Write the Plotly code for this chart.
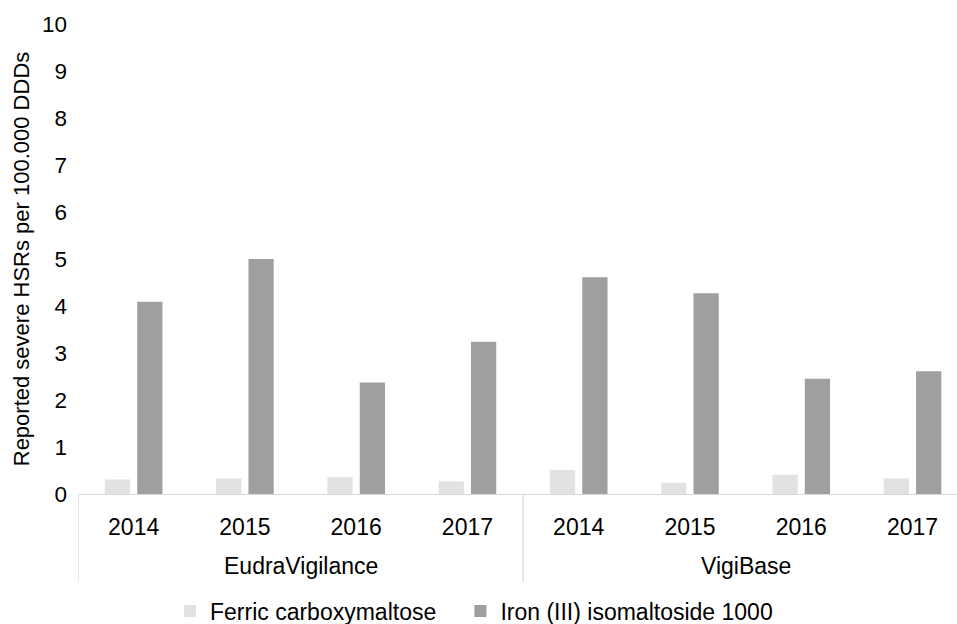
import plotly.graph_objects as go

databases = ["EudraVigilance"] * 4 + ["VigiBase"] * 4
years = ["2014", "2015", "2016", "2017"] * 2
ferric_carboxymaltose = [0.31, 0.33, 0.36, 0.27, 0.51, 0.24, 0.41, 0.33]
iron_isomaltoside = [4.09, 5.00, 2.37, 3.24, 4.61, 4.27, 2.45, 2.61]
y_ticks = list(range(0, 11))

FONT = "Liberation Sans, Arial, sans-serif"
AXIS_GRAY = "#d9d9d9"
positions = list(range(len(years)))

fig = go.Figure()
fig.add_trace(go.Bar(
    x=positions, y=ferric_carboxymaltose,
    name="Ferric carboxymaltose\u00a0\u00a0\u00a0", marker=dict(color="#e2e2e2", line=dict(width=0)),
))
fig.add_trace(go.Bar(
    x=positions, y=iron_isomaltoside,
    name="Iron (III) isomaltoside 1000", marker=dict(color="#9f9f9f", line=dict(width=0)),
))

# group labels and dividers derived from the database list
groups = []
for i, db in enumerate(databases):
    if not groups or groups[-1][0] != db:
        groups.append([db, i, i])
    else:
        groups[-1][2] = i

plot_h = 624 - 24 - 130
boundaries = sorted({g[1] - 0.5 for g in groups} | {g[2] + 0.5 for g in groups})
for b in boundaries:
    fig.add_shape(type="line", xref="x", yref="paper", x0=b, x1=b, y0=0, y1=-88 / plot_h,
                  line=dict(color=AXIS_GRAY, width=1.3), layer="below")
for name, i0, i1 in groups:
    fig.add_annotation(text=name, xref="x", yref="paper", x=(i0 + i1) / 2, y=0,
                       yanchor="middle", yshift=-72, showarrow=False,
                       font=dict(size=23, family=FONT, color="#000000"))

fig.update_layout(
    width=957, height=624,
    margin=dict(l=78, r=0, t=24, b=130),
    paper_bgcolor="white", plot_bgcolor="white",
    font=dict(family=FONT, size=22, color="#000000"),
    barmode="group", bargap=0.418, bargroupgap=0.22,
    showlegend=True,
    legend=dict(orientation="h", x=170 / 957, xanchor="left", xref="container",
                y=13 / 624, yanchor="middle", yref="container",
                font=dict(size=23), traceorder="normal"),
    xaxis=dict(
        range=[-0.5, 7.4], tickvals=positions, ticktext=years,
        showline=True, linecolor=AXIS_GRAY, linewidth=1.3,
        ticks="", ticklabelstandoff=12, tickfont=dict(size=23),
        showgrid=False, zeroline=False,
    ),
    yaxis=dict(
        range=[0, 10], tickvals=y_ticks, showgrid=False, showline=False,
        zeroline=False, ticks="", ticklabelstandoff=10,
        tickfont=dict(size=22.5),
        title=dict(text="Reported severe HSRs per 100.000 DDDs",
                   font=dict(size=22), standoff=6),
    ),
)

fig.write_html("out.html")
